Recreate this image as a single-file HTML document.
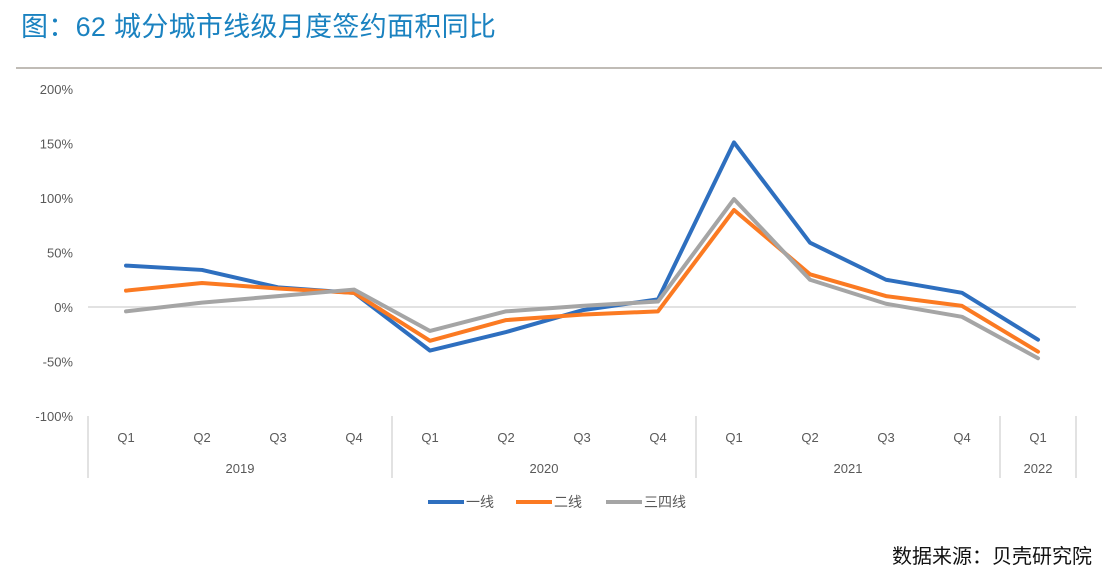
<!DOCTYPE html>
<html><head><meta charset="utf-8"><style>
body{margin:0;width:1102px;height:587px;background:#fff;overflow:hidden;position:relative;font-family:"Liberation Sans","Noto Sans CJK SC",sans-serif}
#title{position:absolute;left:21px;top:5px;font-size:27px;color:#1a82c0;white-space:nowrap;letter-spacing:0.3px}
#rule{position:absolute;left:16px;top:67px;width:1086px;height:2px;background:#c0bcb6}
#source{position:absolute;right:10px;top:540px;font-size:20px;color:#111}
svg{position:absolute;left:0;top:0}
</style></head><body>
<div id="title">图：62 城分城市线级月度签约面积同比</div>
<div id="rule"></div>
<svg id="chart" width="1102" height="587"></svg>
<div id="source">数据来源：贝壳研究院</div>
<script>
const quarters=["Q1","Q2","Q3","Q4","Q1","Q2","Q3","Q4","Q1","Q2","Q3","Q4","Q1"];
const years=["2019","2020","2021","2022"];
const yearSpans=[4,4,4,1];
const tier1=[38,34,18,13,-40,-23,-3,7,151,59,25,13,-30];
const tier2=[15,22,17,13,-31,-12,-7,-4,89,30,10,1,-41];
const tier34=[-4,4,10,16,-22,-4,1,5,99,25,3,-9,-47];
const yTicks=[200,150,100,50,0,-50,-100];
const seriesNames=["一线","二线","三四线"];
const NS="http://www.w3.org/2000/svg";
const svg=document.getElementById('chart');
const x0=88,step=76,yTop=89,yBot=416;
const xs=i=>x0+step*(i+0.5);
const ys=v=>yBot-(v+100)/300*(yBot-yTop);
function mk(t,a){const e=document.createElementNS(NS,t);for(const k in a)e.setAttribute(k,a[k]);svg.appendChild(e);return e;}
yTicks.forEach(v=>{const t=mk('text',{x:73,y:ys(v)+5,'text-anchor':'end','font-size':13,fill:'#595959'});t.textContent=v+'%';

});
const zl=mk('line',{x1:x0,x2:x0+step*13,y1:ys(0),y2:ys(0),stroke:'#d9d9d9','stroke-width':1.5});


quarters.forEach((q,i)=>{const t=mk('text',{x:xs(i),y:442,'text-anchor':'middle','font-size':13,fill:'#595959'});t.textContent=q;

});
let start=0;
const sep=i=>{const l=mk('line',{x1:x0+step*i,x2:x0+step*i,y1:416,y2:478,stroke:'#d9d9d9','stroke-width':1.5});

};
sep(0);
years.forEach((y,k)=>{const end=start+yearSpans[k];
const t=mk('text',{x:x0+step*(start+end)/2,y:473,'text-anchor':'middle','font-size':13,fill:'#595959'});t.textContent=y;


sep(end);start=end;});
const colors=["#2e6fbf","#fb7a22","#a5a5a5"];
[tier1,tier2,tier34].forEach((d,k)=>{const p=mk('polyline',{points:d.map((v,i)=>xs(i)+','+ys(v)).join(' '),fill:'none',stroke:colors[k],'stroke-width':4,'stroke-linejoin':'round','stroke-linecap':'round'});

});
const lx=[428,516,606];
seriesNames.forEach((n,k)=>{const l=mk('line',{x1:lx[k],x2:lx[k]+36,y1:502,y2:502,stroke:colors[k],'stroke-width':4});


const t=mk('text',{x:lx[k]+38,y:507,'font-size':14,fill:'#595959'});t.textContent=n;

});
</script>
</body></html>
